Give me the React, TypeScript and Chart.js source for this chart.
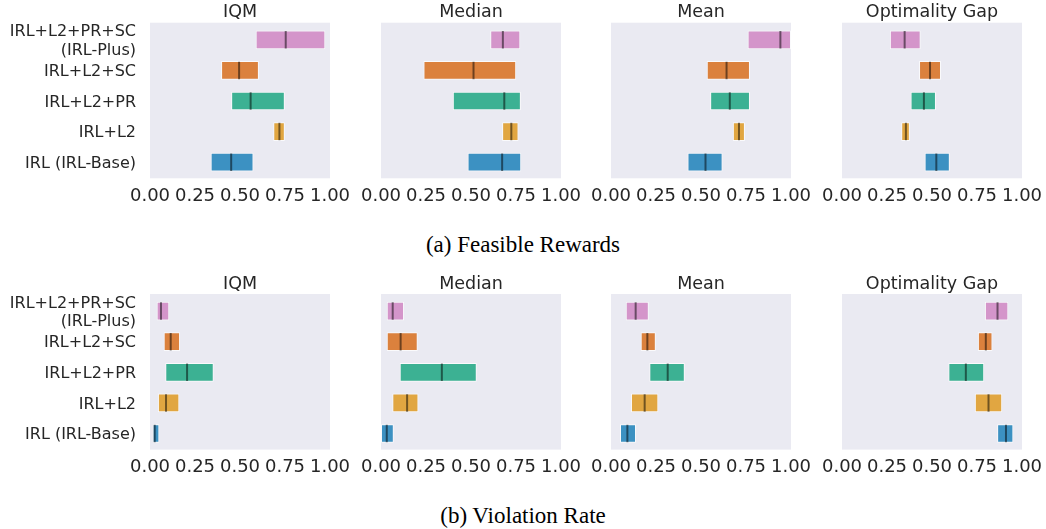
import React, { useEffect, useRef } from 'react';
import { Chart, registerables } from 'chart.js';

Chart.register(...registerables);

// ---- data -------------------------------------------------------------
const methodLabels: (string | string[])[] = [
  ['IRL+L2+PR+SC', '(IRL-Plus)'],
  'IRL+L2+SC',
  'IRL+L2+PR',
  'IRL+L2',
  'IRL (IRL-Base)',
];
const methodColors = ['#cc78bc', '#d55e00', '#029e73', '#de8f05', '#0173b2'];
const metricNames = ['IQM', 'Median', 'Mean', 'Optimality Gap'];
const xTickValues = [0, 0.25, 0.5, 0.75, 1];
const rowCaptions = ['(a) Feasible Rewards', '(b) Violation Rate'];

// Each entry: [lower CI, point estimate, upper CI], one per method
const rewardIQM = [
  [0.587, 0.754, 0.974],
  [0.395, 0.495, 0.605],
  [0.451, 0.559, 0.749],
  [0.685, 0.719, 0.749],
  [0.337, 0.451, 0.575],
];
const rewardMedian = [
  [0.607, 0.677, 0.774],
  [0.236, 0.514, 0.751],
  [0.399, 0.685, 0.777],
  [0.673, 0.724, 0.764],
  [0.481, 0.673, 0.779],
];
const rewardMean = [
  [0.759, 0.941, 1.0],
  [0.532, 0.642, 0.772],
  [0.551, 0.66, 0.772],
  [0.677, 0.711, 0.744],
  [0.425, 0.525, 0.62],
];
const rewardOptGap = [
  [0.266, 0.348, 0.437],
  [0.428, 0.489, 0.55],
  [0.381, 0.455, 0.522],
  [0.329, 0.355, 0.377],
  [0.459, 0.524, 0.599],
];

const violationIQM = [
  [0.037, 0.061, 0.107],
  [0.076, 0.115, 0.167],
  [0.085, 0.206, 0.354],
  [0.044, 0.089, 0.163],
  [0.015, 0.026, 0.052],
];
const violationMedian = [
  [0.032, 0.065, 0.128],
  [0.032, 0.109, 0.204],
  [0.104, 0.338, 0.532],
  [0.063, 0.145, 0.208],
  [0.0, 0.032, 0.071],
];
const violationMean = [
  [0.082, 0.137, 0.21],
  [0.165, 0.202, 0.249],
  [0.213, 0.315, 0.41],
  [0.111, 0.187, 0.263],
  [0.05, 0.091, 0.139],
];
const violationOptGap = [
  [0.794, 0.864, 0.924],
  [0.755, 0.799, 0.836],
  [0.591, 0.688, 0.79],
  [0.738, 0.814, 0.89],
  [0.862, 0.911, 0.952],
];

const panelRows = [
  [rewardIQM, rewardMedian, rewardMean, rewardOptGap],
  [violationIQM, violationMedian, violationMean, violationOptGap],
];

// ---- layout -----------------------------------------------------------
const FIG_W = 1046;
const FIG_H = 529;
const SIDE_PAD = 30;
const COL_LEFT = [150, 381, 611, 842];
const PLOT_W = 180;
const ROW_TOP = [22.7, 294];
const PLOT_H = 155.6;
const BG_TOP_INSET = 1.8;
const BG_BOTTOM_INSET = 0.8;
const CANVAS_TOP = [0, 265];
const CANVAS_H = 215;
const TITLE_GAP = 11.8;
const CAPTION_Y = [244.2, 515.5];

const TEXT_COLOR = '#262626';
const PANEL_BG = '#eaeaf2';
const SANS = "'DejaVu Sans', 'Noto Sans', sans-serif";

function withAlpha(hex: string, a: number) {
  const n = parseInt(hex.slice(1), 16);
  return `rgba(${(n >> 16) & 255}, ${(n >> 8) & 255}, ${n & 255}, ${a})`;
}

// Shaded panel, metric title and point-estimate ticks
const panelDecor = {
  id: 'panelDecor',
  beforeDraw(chart: any, _args: any, opts: any) {
    const { ctx, chartArea } = chart;
    ctx.save();
    ctx.fillStyle = PANEL_BG;
    const bgTop = chartArea.top - BG_TOP_INSET;
    const bgBottom = chartArea.bottom + BG_BOTTOM_INSET;
    ctx.fillRect(chartArea.left, bgTop, chartArea.right - chartArea.left, bgBottom - bgTop);
    const size = 17.5;
    ctx.font = `${size}px ${SANS}`;
    ctx.fillStyle = TEXT_COLOR;
    ctx.textAlign = 'center';
    ctx.textBaseline = 'alphabetic';
    const capCenter = bgTop - TITLE_GAP;
    ctx.fillText(opts.title, (chartArea.left + chartArea.right) / 2, capCenter + 0.3645 * size);
    ctx.restore();
  },
  afterDatasetsDraw(chart: any, _args: any, opts: any) {
    const { ctx, chartArea } = chart;
    const xScale = chart.scales.x;
    const meta = chart.getDatasetMeta(0);
    ctx.save();
    ctx.beginPath();
    ctx.rect(chartArea.left, chartArea.top, chartArea.right - chartArea.left, chartArea.bottom - chartArea.top);
    ctx.clip();
    ctx.strokeStyle = 'rgba(0, 0, 0, 0.5)';
    ctx.lineWidth = 2;
    meta.data.forEach((bar: any, i: number) => {
      const x = xScale.getPixelForValue(opts.points[i]);
      const half = (bar.height / 2) * (15 / 16);
      ctx.beginPath();
      ctx.moveTo(x, bar.y - half);
      ctx.lineTo(x, bar.y + half);
      ctx.stroke();
    });
    ctx.restore();
  },
};

function Panel({ row, col, estimates }: { row: number; col: number; estimates: number[][] }) {
  const ref = useRef<HTMLCanvasElement>(null);
  const first = col === 0;
  const canvasLeft = first ? 0 : COL_LEFT[col] - SIDE_PAD;
  const canvasWidth = COL_LEFT[col] + PLOT_W + SIDE_PAD - canvasLeft;
  const canvasTop = CANVAS_TOP[row];
  const areaTop = ROW_TOP[row] + BG_TOP_INSET - canvasTop;
  const areaBottom = ROW_TOP[row] + PLOT_H - BG_BOTTOM_INSET - canvasTop;

  useEffect(() => {
    const chart = new Chart(ref.current as HTMLCanvasElement, {
      type: 'bar',
      data: {
        labels: methodLabels as any,
        datasets: [
          {
            data: estimates.map((e) => [e[0], e[2]]) as any,
            backgroundColor: methodColors.map((c) => withAlpha(c, 0.75)),
            borderColor: 'rgba(255, 255, 255, 0.75)',
            borderWidth: 1,
            borderSkipped: false,
            barPercentage: 0.61,
            categoryPercentage: 1,
          },
        ],
      },
      options: {
        indexAxis: 'y',
        responsive: false,
        animation: false,
        events: [],
        layout: {
          padding: { left: first ? 0 : SIDE_PAD, right: SIDE_PAD, top: areaTop, bottom: 0 },
        },
        plugins: {
          legend: { display: false },
          tooltip: { enabled: false },
          panelDecor: { title: metricNames[col], points: estimates.map((e) => e[1]) },
        } as any,
        scales: {
          x: {
            type: 'linear',
            min: 0,
            max: 1,
            afterBuildTicks: (s: any) => {
              s.ticks = xTickValues.map((v) => ({ value: v }));
            },
            afterFit: (s: any) => {
              s.height = CANVAS_H - areaBottom;
              s.paddingLeft = 0;
              s.paddingRight = 0;
            },
            ticks: {
              autoSkip: false,
              maxRotation: 0,
              minRotation: 0,
              padding: 8,
              color: TEXT_COLOR,
              font: { family: SANS, size: 18 },
              callback: (v: any) => Number(v).toFixed(2),
            },
            grid: { display: false, drawTicks: false },
            border: { display: false },
          },
          y: {
            display: first,
            afterFit: (s: any) => {
              s.width = first ? COL_LEFT[0] : 0;
              s.paddingTop = 0;
              s.paddingBottom = 0;
            },
            ticks: {
              autoSkip: false,
              padding: 14,
              labelOffset: 1.5,
              color: TEXT_COLOR,
              font: { family: SANS, size: 16, lineHeight: 1.15 },
            },
            grid: { display: false, drawTicks: false },
            border: { display: false },
          },
        },
      },
      plugins: [panelDecor as any],
    });
    return () => chart.destroy();
  }, []);

  return (
    <canvas
      ref={ref}
      width={canvasWidth}
      height={CANVAS_H}
      style={{
        position: 'absolute',
        left: canvasLeft,
        top: canvasTop,
        width: canvasWidth,
        height: CANVAS_H,
      }}
    />
  );
}

export default function App() {
  return (
    <div
      style={{
        position: 'absolute',
        left: 0,
        top: 0,
        width: FIG_W,
        height: FIG_H,
        background: '#ffffff',
        overflow: 'hidden',
      }}
    >
      {panelRows.map((panels, row) =>
        panels.map((estimates, col) => (
          <Panel key={`${row}-${col}`} row={row} col={col} estimates={estimates} />
        ))
      )}
      {rowCaptions.map((text, row) => (
        <div
          key={text}
          style={{
            position: 'absolute',
            left: 0,
            width: FIG_W,
            top: CAPTION_Y[row] - 11.7,
            fontFamily: "'Liberation Serif', 'Times New Roman', serif",
            fontSize: 23,
            lineHeight: '23px',
            textAlign: 'center',
            color: '#000',
            whiteSpace: 'nowrap',
          }}
        >
          {text}
        </div>
      ))}
    </div>
  );
}
